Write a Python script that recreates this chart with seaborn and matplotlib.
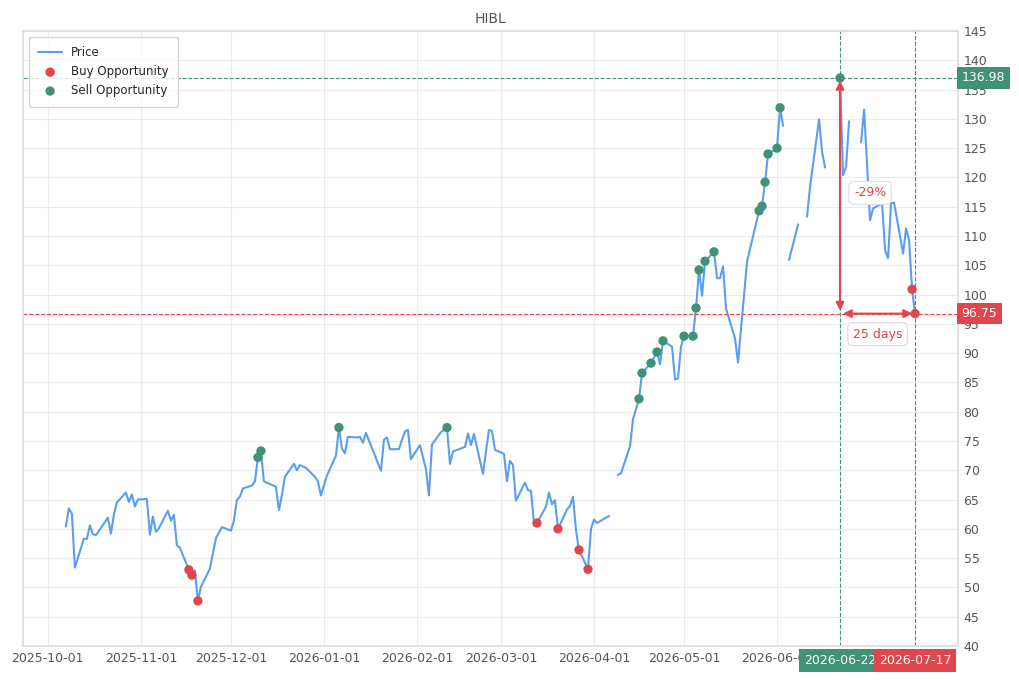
import numpy as np
import pandas as pd
import matplotlib
matplotlib.use("Agg")
import matplotlib.pyplot as plt
import seaborn as sns

start = pd.Timestamp("2025-10-01")
# price series: days since 2025-10-01, NaN marks gaps
price_days = [6,7,8,9,12,13,14,15,16,20,21,22,23,26,27,28,29,30,33,34,35,36,37,40,41,42,43,44,47,48,49,50,51,54,56,58,61,62,63,64,65,68,69,70,71,72,76,77,78,79,82,83,84,86,89,90,91,93,96,97,98,99,100,103,104,105,106,111,112,113,114,117,118,119,120,121,124,126,127,128,131,133,134,135,139,140,141,142,145,147,148,149,152,153,154,155,156,159,160,161,162,163,166,167,168,169,170,173,174,175,176,177,180,181,182,183,187,
              188,
              190,191,194,195,197,198,201,203,204,205,208,209,210,211,212,215,216,217,218,219,222,223,224,225,226,229,230,233,237,238,239,240,243,244,245,
              246,247,250,251,253,254,257,258,259,260,264,265,266,267,268,
              271,272,274,275,278,279,280,281,282,285,286,287,288,289]
price_vals = [60.4,63.5,62.6,53.4,58.3,58.3,60.6,59.1,58.9,61.9,59.2,62.4,64.5,66.2,64.6,65.9,63.8,65.0,65.1,59.0,62.1,59.5,60.1,63.1,61.4,62.4,57.2,56.8,53.0,52.1,52.9,47.7,50.1,53.2,58.4,60.3,59.7,61.4,64.9,65.5,66.9,67.4,68.1,72.2,73.3,68.1,67.2,63.2,65.8,68.9,71.1,70.0,70.9,70.4,68.9,68.1,65.7,69.1,72.5,77.3,73.7,72.9,75.7,75.6,75.7,74.7,76.4,69.9,75.2,75.6,73.6,73.6,75.2,76.6,76.9,71.9,74.3,70.2,65.7,74.4,76.5,77.3,71.1,73.2,74.0,76.3,74.3,76.2,69.4,76.9,76.7,73.5,72.8,68.1,71.6,70.9,64.8,67.9,66.6,66.5,61.0,61.0,63.8,66.2,64.2,64.9,60.0,63.3,63.9,65.5,59.8,56.4,53.1,60.0,61.6,61.0,62.2,
              np.nan,
              69.2,69.5,74.1,78.7,82.2,86.6,88.3,90.2,88.1,92.1,91.1,85.5,85.7,91.1,92.9,92.9,97.7,104.2,99.8,105.7,107.3,102.8,102.8,104.8,97.6,92.5,88.4,105.6,114.3,115.1,119.2,124.0,125.0,131.9,128.8,
              np.nan,105.9,112.0,np.nan,113.3,118.4,129.9,124.4,121.7,np.nan,136.98,120.4,121.8,129.6,np.nan,
              126.0,131.6,112.7,114.7,115.6,107.6,106.2,115.6,115.7,107.0,111.3,109.3,100.9,96.75]

buy_days = [47,48,50,163,170,177,180,288,289]
buy_vals = [53.0,52.1,47.7,61.0,60.0,56.4,53.1,100.9,96.75]
sell_days = [70,71,97,133,197,198,201,203,205,212,215,216,217,219,222,237,238,239,240,243,244,264]
sell_vals = [72.2,73.3,77.3,77.3,82.2,86.6,88.3,90.2,92.1,92.9,92.9,97.7,104.2,105.7,107.3,114.3,115.1,119.2,124.0,125.0,131.9,136.98]

peak_date, peak_val = "2026-06-22", 136.98
end_date, end_val = "2026-07-17", 96.75
drop_label, days_label = "-29%", "25 days"
yticks = list(range(40, 150, 5))
xtick_dates = ["2025-10-01","2025-11-01","2025-12-01","2026-01-01","2026-02-01","2026-03-01","2026-04-01","2026-05-01","2026-06-01"]

BLUE, RED, GREEN = "#5b9ef0", "#e0464b", "#3f9278"

sns.set_theme(style="whitegrid")
plt.rcParams['font.family'] = ['DejaVu Sans']

price = pd.DataFrame({"date": start + pd.to_timedelta(price_days, unit="D"), "price": price_vals})
buys = pd.DataFrame({"date": start + pd.to_timedelta(buy_days, unit="D"), "price": buy_vals})
sells = pd.DataFrame({"date": start + pd.to_timedelta(sell_days, unit="D"), "price": sell_vals})

fig = plt.figure(figsize=(10.2, 6.8), dpi=100)
ax = fig.add_axes([0.0225, 0.05, 0.9167, 0.9044])
ax.plot(price["date"], price["price"], color=BLUE, lw=1.5, label="Price")
sns.scatterplot(data=buys, x="date", y="price", color=RED, s=45, edgecolor="none", ax=ax, label="Buy Opportunity", zorder=3)
sns.scatterplot(data=sells, x="date", y="price", color=GREEN, s=45, edgecolor="none", ax=ax, label="Sell Opportunity", zorder=3)

pk, en = pd.Timestamp(peak_date), pd.Timestamp(end_date)
ax.axhline(peak_val, color=GREEN, ls="--", lw=0.8)
ax.axhline(end_val, color=RED, ls="--", lw=0.8)
ax.axvline(pk, color=GREEN, ls="--", lw=0.8)
ax.axvline(en, color=RED, ls="--", lw=0.8)
ax.annotate("", xy=(pk, end_val), xytext=(pk, peak_val),
            arrowprops=dict(arrowstyle="<|-|>", color=RED, lw=1.5, mutation_scale=12))
ax.annotate("", xy=(en, end_val), xytext=(pk, end_val),
            arrowprops=dict(arrowstyle="<|-|>", color=RED, lw=1.5, mutation_scale=12))
bbox = dict(boxstyle="round,pad=0.4", fc="white", ec="#dddddd", lw=0.8)
ax.text(pk + pd.Timedelta(days=10), (peak_val + end_val) / 2 + 0.5, drop_label, color=RED, fontsize=9, ha="center", va="center", bbox=bbox)
ax.text(pk + pd.Timedelta(days=12.5), end_val - 3.5, days_label, color=RED, fontsize=9, ha="center", va="center", bbox=bbox)

ax.set_xlim(start - pd.Timedelta(days=8.3), start + pd.Timedelta(days=303.3))
ax.set_ylim(40, 145)
ax.yaxis.tick_right()
ax.set_yticks(yticks)
ax.set_xticks(pd.to_datetime(xtick_dates))
ax.set_xticklabels(xtick_dates)
ax.tick_params(axis="both", labelsize=9, colors="#555555", length=0, pad=4)
for s in ax.spines.values():
    s.set_color("#dddddd")
ax.grid(color="#ebebeb", lw=0.8)
ax.set_xlabel(""); ax.set_ylabel("")
ax.set_title("HIBL", fontsize=10, color="#555555")

tr_y = ax.get_yaxis_transform()
for val, col in [(peak_val, GREEN), (end_val, RED)]:
    ax.text(1.004, val, f"{val:.2f}", transform=tr_y, color="white", fontsize=9, ha="left", va="center",
            bbox=dict(boxstyle="square,pad=0.35", fc=col, ec="none"), zorder=5, clip_on=False)
tr_x = ax.get_xaxis_transform()
for d, col in [(pk, GREEN), (en, RED)]:
    ax.text(d, -0.024, d.strftime("%Y-%m-%d"), transform=tr_x, color="white", fontsize=9, ha="center", va="center",
            bbox=dict(boxstyle="square,pad=0.4", fc=col, ec="none"), zorder=5, clip_on=False)

leg = ax.legend(loc="upper left", fontsize=8.5, frameon=True, borderpad=0.8)
leg.get_frame().set_edgecolor("#cccccc")
fig.savefig("out.png", dpi=100)
